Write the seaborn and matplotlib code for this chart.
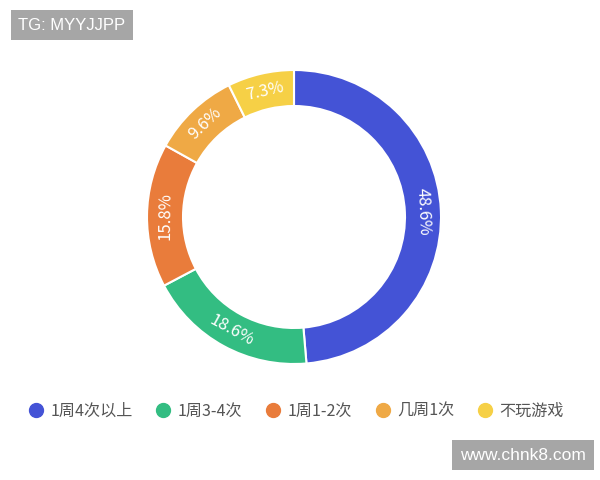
import matplotlib
matplotlib.use("Agg")
import matplotlib.pyplot as plt
from matplotlib.lines import Line2D
import numpy as np
import seaborn as sns

# 数据
categories = ["1周4次以上", "1周3-4次", "1周1-2次", "几周1次", "不玩游戏"]
shares = [48.6, 18.6, 15.8, 9.6, 7.3]
colors = ["#4453D6", "#33BD82", "#E97C3B", "#EFA945", "#F6D046"]

sns.set_theme(style="white")
plt.rcParams["font.family"] = ["Noto Sans CJK SC", "DejaVu Sans"]

fig = plt.figure(figsize=(6, 4.8), dpi=100)
fig.patch.set_facecolor("white")

# 环形图位置: 中心 (294, 217) 像素, 半径 147 像素
cx, cy, r = 294, 217, 147
ax = fig.add_axes([(cx - r) / 600, 1 - (cy + r) / 480, 2 * r / 600, 2 * r / 480])

ring = 0.245
wedges, _ = ax.pie(shares, colors=colors, startangle=90, counterclock=False,
                   radius=1, wedgeprops=dict(width=ring, edgecolor="white", linewidth=1.5))
ax.set_xlim(-1, 1)
ax.set_ylim(-1, 1)
ax.set_aspect("equal")
ax.axis("off")

# 百分比标签沿环切向旋转
total = sum(shares)
cum = 0
for v in shares:
    a = (cum + v / 2) / total * 360  # 顺时针, 从顶部起
    cum += v
    theta = np.deg2rad(90 - a)
    rr = 1 - ring / 2
    rot = -a
    while rot <= -90:
        rot += 180
    while rot > 90:
        rot -= 180
    ax.text(rr * np.cos(theta), rr * np.sin(theta), f"{v}%", color="white",
            fontsize=12, fontweight="light", rotation=rot, rotation_mode="anchor",
            ha="center", va="center")

# 图例
handles = [Line2D([0], [0], marker="o", linestyle="", markersize=10,
                  markerfacecolor=c, markeredgecolor=c) for c in colors]
fig.legend(handles, categories, loc="center", bbox_to_anchor=(296 / 600, 1 - 411 / 480),
           ncol=5, frameon=False, fontsize=11.6, handletextpad=0.4, columnspacing=1.4,
           handlelength=1.0, labelcolor="#555555")

# 水印
fig.text(18 / 600, 1 - 25 / 480, "TG: MYYJJPP", color="white", fontsize=12,
         family=["Liberation Sans", "DejaVu Sans"], va="center", ha="left",
         bbox=dict(boxstyle="square,pad=0.45", facecolor="#A6A6A6", edgecolor="none"))
fig.text(460 / 600, 1 - 455 / 480, "www.chnk8.com", color="white", fontsize=12.5,
         family=["Liberation Sans", "DejaVu Sans"], va="center", ha="left",
         bbox=dict(boxstyle="square,pad=0.45", facecolor="#A6A6A6", edgecolor="none"))

fig.savefig("out.png", dpi=100, facecolor="white")
